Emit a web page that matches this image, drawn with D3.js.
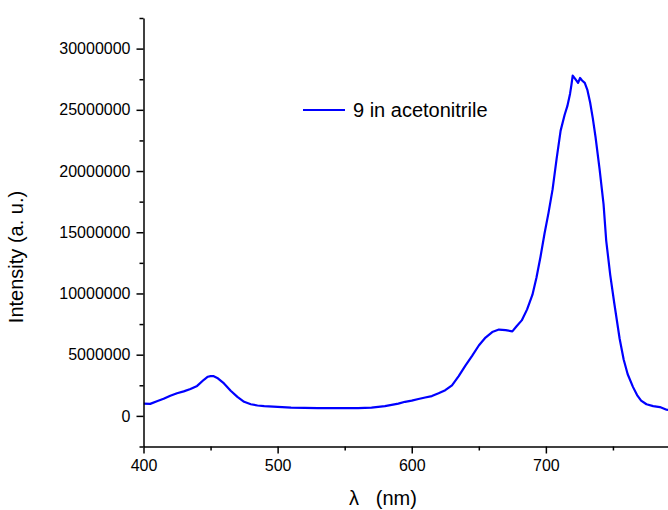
<!DOCTYPE html>
<html>
<head>
<meta charset="utf-8">
<script src="https://cdn.jsdelivr.net/npm/d3@7"></script>
<style>
  html, body { margin: 0; padding: 0; background: #fff; }
  svg { display: block; }
  text { font-family: "Liberation Sans", Arial, sans-serif; fill: #000; }
</style>
</head>
<body>
<svg id="chart" width="668" height="510"></svg>
<script>
// ---- Data ----
const seriesName = "9 in acetonitrile";
const wavelength = [400,405,410,415,420,425,430,435,440,445,448,450,452,455,460,465,470,475,480,485,490,500,510,520,530,540,550,560,570,580,590,595,600,605,610,615,620,625,630,635,640,645,650,655,660,665,670,675,678,682,686,690,693,696,699,702,705,708,711,714,716,718,719,720,722,724,725.5,727,729,731,733,735,737,740,743,745,748,751,755,758,761,765,768,771,775,780,785,790,795];
const intensity = [1.00,0.98,1.20,1.40,1.65,1.85,2.00,2.20,2.45,2.95,3.20,3.25,3.25,3.10,2.65,2.05,1.55,1.15,0.95,0.85,0.80,0.74,0.68,0.66,0.64,0.64,0.64,0.64,0.68,0.80,1.00,1.15,1.25,1.38,1.50,1.62,1.85,2.10,2.50,3.25,4.10,4.90,5.75,6.40,6.85,7.05,7.00,6.90,7.30,7.80,8.70,9.90,11.3,13.0,14.9,16.6,18.5,21.0,23.3,24.6,25.3,26.3,27.0,27.8,27.5,27.2,27.6,27.4,27.2,26.6,25.6,24.3,22.8,20.2,17.3,14.3,11.5,9.2,6.3,4.6,3.4,2.35,1.7,1.25,0.95,0.80,0.72,0.50,0.45].map(v => v * 1e6);
const xMajorTicks = [400, 500, 600, 700];
const xMinorTicks = [450, 550, 650, 750];
const yMajorTicks = [0, 5000000, 10000000, 15000000, 20000000, 25000000, 30000000];
const yMinorTicks = [-2500000, 2500000, 7500000, 12500000, 17500000, 22500000, 27500000, 32500000];
const xDomain = [400, 800];
const yDomain = [-2500000, 32500000];

// ---- Layout ----
const svg = d3.select("#chart");
const plotL = 143.5, plotR = 680, plotT = 18, plotB = 446.5;

const x = d3.scaleLinear().domain(xDomain).range([plotL, plotR]);
const y = d3.scaleLinear().domain(yDomain).range([plotB, plotT]);

svg.append("defs").append("clipPath").attr("id", "plotclip")
  .append("rect").attr("x", plotL).attr("y", plotT).attr("width", plotR - plotL).attr("height", plotB - plotT);

// Series line
const data = wavelength.map((w, i) => ({ w, v: intensity[i] }));
svg.append("path")
  .datum(data)
  .attr("clip-path", "url(#plotclip)")
  .attr("fill", "none")
  .attr("stroke", "#0000ff")
  .attr("stroke-width", 2.2)
  .attr("stroke-linejoin", "round")
  .attr("d", d3.line().x(d => x(d.w)).y(d => y(d.v)));

// X axis
const xAxisG = svg.append("g").attr("transform", `translate(0,${plotB})`);
xAxisG.call(d3.axisBottom(x).tickValues(xMinorTicks).tickSize(4).tickFormat(""))
  .call(g => g.select(".domain").remove());
xAxisG.append("g").call(d3.axisBottom(x).tickValues(xMajorTicks).tickSize(7).tickSizeOuter(0).tickPadding(6).tickFormat(d3.format("d")))
  .call(g => g.selectAll("text").style("font-size", "16px").attr("fill", "#000"));
xAxisG.selectAll("line, path").attr("stroke", "#000").attr("stroke-width", 1.5);

// Y axis
const yAxisG = svg.append("g").attr("transform", `translate(${plotL},0)`);
yAxisG.call(d3.axisLeft(y).tickValues(yMinorTicks).tickSize(4).tickFormat(""))
  .call(g => g.select(".domain").remove());
yAxisG.append("g").call(d3.axisLeft(y).tickValues(yMajorTicks).tickSize(7).tickSizeOuter(0).tickPadding(6).tickFormat(d3.format("d")))
  .call(g => g.selectAll("text").style("font-size", "16px").attr("fill", "#000"));
yAxisG.selectAll("line, path").attr("stroke", "#000").attr("stroke-width", 1.5);

// Axis titles
svg.append("text")
  .attr("x", 383).attr("y", 505)
  .attr("text-anchor", "middle")
  .style("font-size", "20px")
  .style("white-space", "pre")
  .text("λ   (nm)");

svg.append("text")
  .attr("transform", `translate(23,257) rotate(-90)`)
  .attr("text-anchor", "middle")
  .style("font-size", "20px")
  .text("Intensity (a. u.)");

// Legend
const lg = svg.append("g");
lg.append("line").attr("x1", 303).attr("x2", 345).attr("y1", 110).attr("y2", 110)
  .attr("stroke", "#0000ff").attr("stroke-width", 2.2);
lg.append("text").attr("x", 353).attr("y", 117).style("font-size", "20px").text(seriesName);
</script>
</body>
</html>
